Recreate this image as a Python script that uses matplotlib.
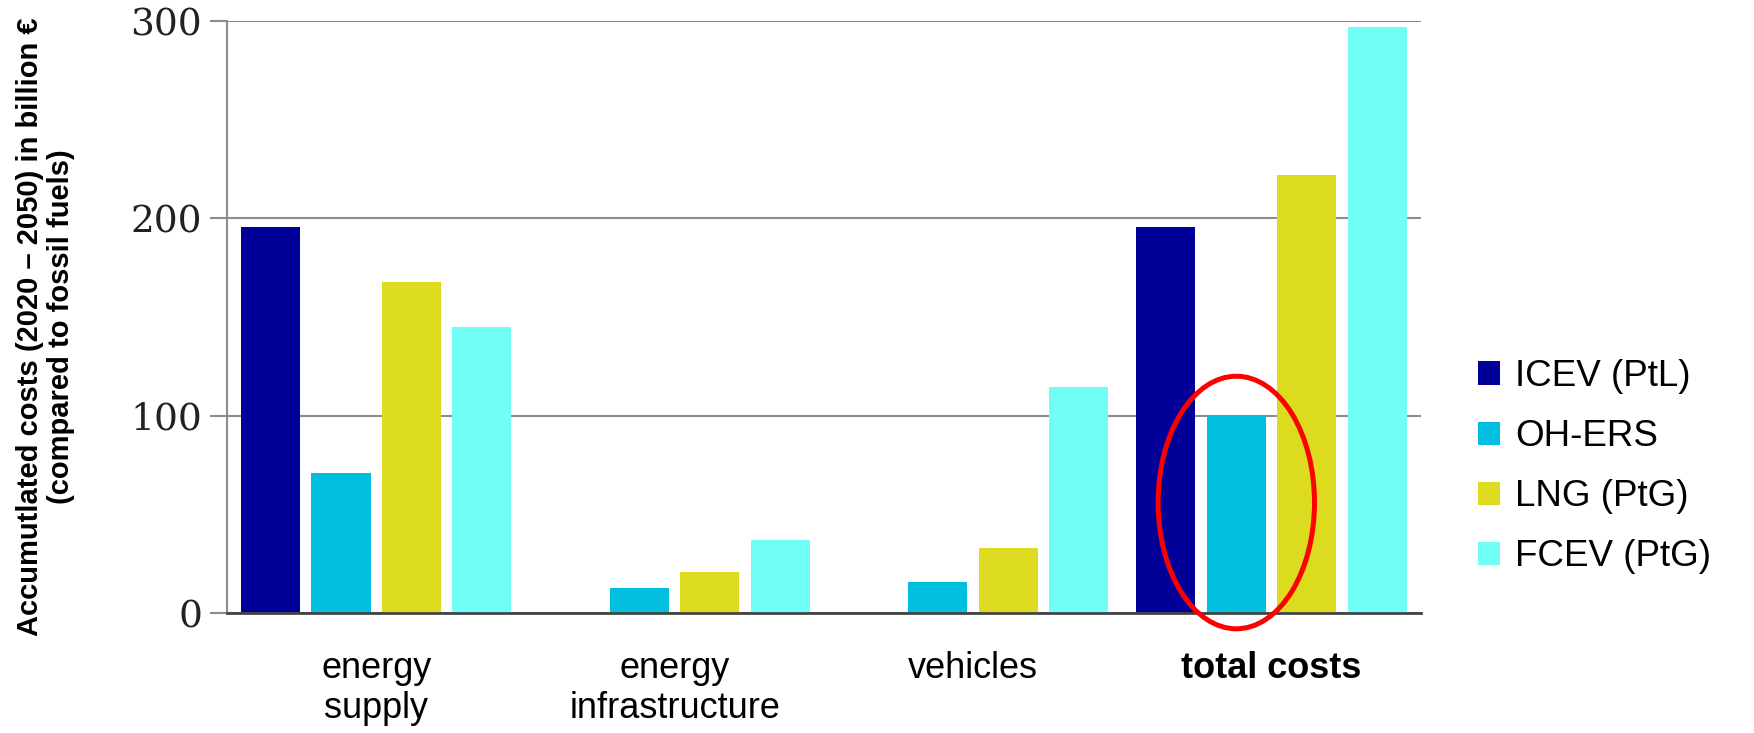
import numpy as np
import matplotlib
matplotlib.use("Agg")
from matplotlib import pyplot as plt
from matplotlib.patches import Ellipse, Patch

# data
categories = ["energy\nsupply", "energy\ninfrastructure", "vehicles", "total costs"]
series = ["ICEV (PtL)", "OH-ERS", "LNG (PtG)", "FCEV (PtG)"]
icev = [195.5, 0, 0, 195.5]
oh_ers = [71, 12.5, 15.5, 100]
lng = [168, 21, 33, 222]
fcev = [145, 37, 114.5, 297]
colors = ["#000099", "#00BFDF", "#DDDB1F", "#6FFFF7"]
yticks = [0, 100, 200, 300]

plt.rcParams['font.family'] = ['Liberation Sans', 'DejaVu Sans']

fig = plt.figure(figsize=(17.54, 7.33), dpi=100)
ax = fig.add_axes([0.1294, 0.1637, 0.6806, 0.8076])

x = np.arange(len(categories))
slot = 0.236
width = 0.1985
for i, (vals, col, name) in enumerate(zip([icev, oh_ers, lng, fcev], colors, series)):
    xs = x + (i - 1.5) * slot
    # skip zero bars so nothing shows up where there is no value
    keep = [v > 0 for v in vals]
    ax.bar(xs[keep], np.array(vals)[keep], width=width, color=col, zorder=3)

ax.set_xlim(-0.5, len(categories) - 0.5)
ax.set_ylim(0, 300)

# grid and axes styling
ax.set_yticks(yticks)
ax.yaxis.grid(True, color="#8c8c8c", linewidth=1.5, zorder=0)
ax.axhline(0, color="#444444", linewidth=2, zorder=4, clip_on=False)
for s in ["top", "right", "bottom"]:
    ax.spines[s].set_visible(False)
ax.spines["left"].set_color("#8c8c8c")
ax.spines["left"].set_linewidth(1.5)
ax.tick_params(axis="y", length=12, width=1.5, color="#8c8c8c", pad=6)
for lab in ax.get_yticklabels():
    lab.set_fontfamily("DejaVu Serif")
    lab.set_fontsize(27)
    lab.set_color("#222222")

ax.set_xticks(x)
ax.set_xticklabels(categories, fontsize=26, linespacing=1.2)
ax.tick_params(axis="x", length=0, pad=27)
for lab in ax.get_xticklabels():
    lab.set_multialignment("center")
ax.get_xticklabels()[-1].set_fontweight("bold")

fig.text(0.026, 0.554, "Accumutlated costs (2020 \u2013 2050) in billion \u20ac\n(compared to fossil fuels)",
         rotation=90, ha="center", va="center", fontsize=21, fontweight="bold",
         multialignment="center", linespacing=1.12)

# red ellipse around the OH-ERS total bar
ell = Ellipse((3 - 0.5 * slot, 56), 0.524, 128, fill=False,
              edgecolor="#FF0000", linewidth=3.6, zorder=5, clip_on=False)
ax.add_patch(ell)

handles = [Patch(facecolor=c, edgecolor="none") for c in colors]
fig.legend(handles, series, loc="center left", bbox_to_anchor=(0.834, 0.363),
           frameon=False, fontsize=26.5, handlelength=0.62, handleheight=0.62,
           handletextpad=0.4, labelspacing=0.68, borderaxespad=0)

fig.savefig("out.png", dpi=100)
